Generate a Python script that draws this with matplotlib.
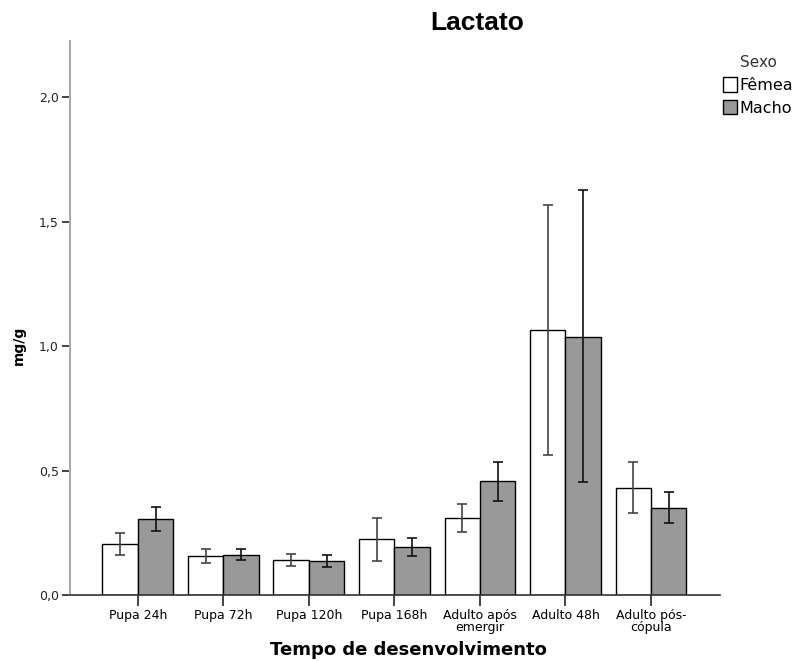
import matplotlib
matplotlib.use('Agg')
import matplotlib.pyplot as plt
import numpy as np

plt.rcParams['font.family'] = ['DejaVu Sans']

categories = ['Pupa 24h', 'Pupa 72h', 'Pupa 120h', 'Pupa 168h',
              'Adulto após\nemergir', 'Adulto 48h', 'Adulto pós-\ncópula']
femea = [0.205, 0.157, 0.139, 0.224, 0.309, 1.063, 0.431]
femea_lo = [0.160, 0.130, 0.116, 0.138, 0.254, 0.562, 0.331]
femea_hi = [0.250, 0.185, 0.165, 0.310, 0.364, 1.567, 0.533]
macho = [0.306, 0.162, 0.135, 0.193, 0.457, 1.037, 0.349]
macho_lo = [0.258, 0.139, 0.111, 0.157, 0.379, 0.453, 0.289]
macho_hi = [0.355, 0.185, 0.160, 0.229, 0.534, 1.627, 0.412]
yticks = [0.0, 0.5, 1.0, 1.5, 2.0]
ytick_labels = ['0,0', '0,5', '1,0', '1,5', '2,0']

fig = plt.figure(figsize=(8.08, 6.61), dpi=100)
ax = fig.add_axes([70 / 808, 66 / 661, 650 / 808, 554 / 661])

x = np.arange(len(categories))
w = 0.415
f = np.array(femea)
m = np.array(macho)
ax.bar(x - w / 2, f, w, color='white', edgecolor='black', linewidth=1, label='Fêmea', zorder=2)
ax.bar(x + w / 2, m, w, color='#999999', edgecolor='black', linewidth=1, label='Macho', zorder=2)
ax.errorbar(x - w / 2, f, yerr=[f - np.array(femea_lo), np.array(femea_hi) - f],
            fmt='none', ecolor='#444444', elinewidth=1.2, capsize=3.5, capthick=1.2, zorder=3)
ax.errorbar(x + w / 2, m, yerr=[m - np.array(macho_lo), np.array(macho_hi) - m],
            fmt='none', ecolor='#111111', elinewidth=1.2, capsize=3.5, capthick=1.2, zorder=3)

ax.set_xlim(-0.795, 6.807)
ax.set_ylim(0, 2.225)
ax.set_yticks(yticks)
ax.set_yticklabels(ytick_labels, fontsize=9, color='#222222')
ax.set_xticks(x)
ax.set_xticklabels(categories, fontsize=9, linespacing=0.95)
ax.tick_params(axis='x', length=8, width=1.2, color='#222222', pad=2)
ax.tick_params(axis='y', length=6, width=1.2, color='#222222', pad=2)

for s in ['top', 'right']:
    ax.spines[s].set_visible(False)
ax.spines['left'].set_color('#aaaaaa')
ax.spines['left'].set_linewidth(1.5)
ax.spines['bottom'].set_color('#333333')
ax.spines['bottom'].set_linewidth(1.2)

fig.text(477 / 808, 1 - 23 / 661, 'Lactato', fontsize=19, fontweight='bold', ha='center', va='center',
         family='Liberation Sans')
fig.text(19 / 808, 1 - 345 / 661, 'mg/g', fontsize=10, fontweight='bold', rotation=90, ha='center', va='center')
fig.text(408 / 808, 1 - 650 / 661, 'Tempo de desenvolvimento', fontsize=13, fontweight='bold',
         ha='center', va='center')

leg = fig.legend(loc='upper left', bbox_to_anchor=(712 / 808, 1 - 44 / 661), frameon=False,
                 title='Sexo', fontsize=11.5, title_fontsize=11, handlelength=0.85, handleheight=1.0,
                 handletextpad=0.15, labelspacing=0.45, borderpad=0.2)
leg.get_title().set_color('#333333')

fig.savefig('out.png', dpi=100)
